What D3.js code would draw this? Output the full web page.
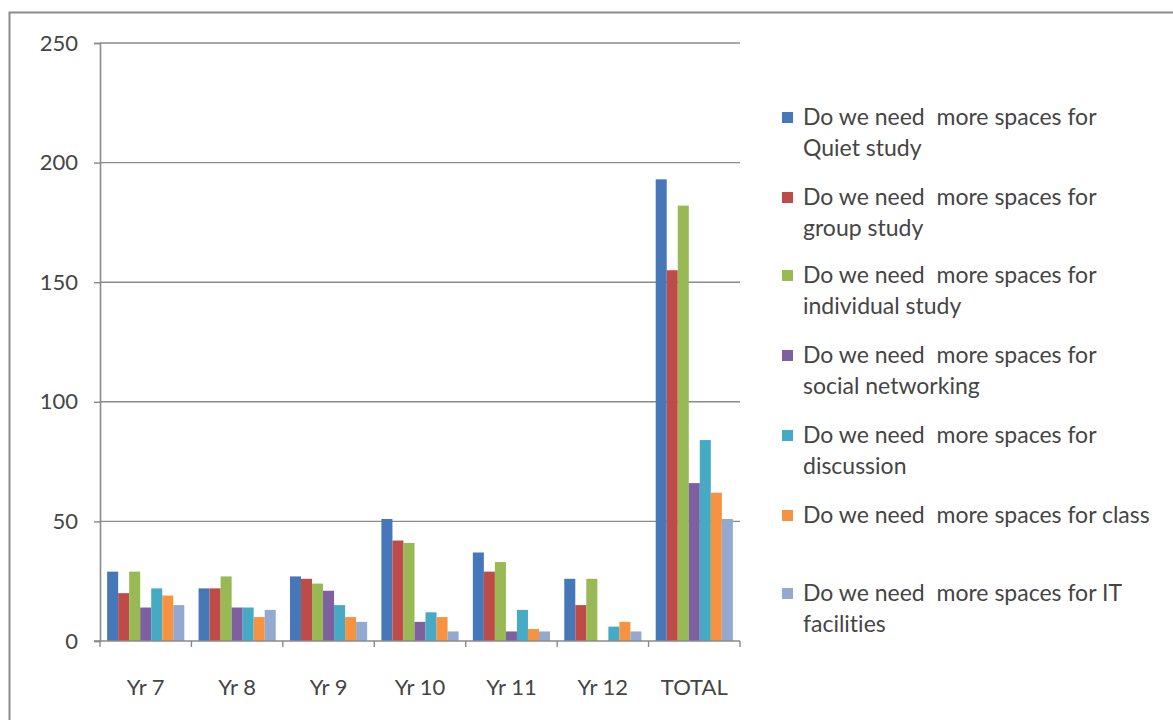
<!DOCTYPE html>
<html>
<head>
<meta charset="utf-8">
<script src="https://cdn.jsdelivr.net/npm/d3@7"></script>
<style>
  html, body { margin: 0; padding: 0; background: #fff; }
  svg { display: block; }
  text { font-family: Lato, "Open Sans", sans-serif; fill: #454545; font-variant-ligatures: none; }
</style>
</head>
<body>
<svg id="chart" width="1173" height="720"></svg>
<script>
// Survey responses by year group
const categories = ["Yr 7", "Yr 8", "Yr 9", "Yr 10", "Yr 11", "Yr 12", "TOTAL"];
const seriesNames = [
  "Do we need  more spaces for Quiet study",
  "Do we need  more spaces for group study",
  "Do we need  more spaces for individual study",
  "Do we need  more spaces for social networking",
  "Do we need  more spaces for discussion",
  "Do we need  more spaces for class",
  "Do we need  more spaces for IT facilities"
];
const quietStudy      = [29, 22, 27, 51, 37, 26, 193];
const groupStudy      = [20, 22, 26, 42, 29, 15, 155];
const individualStudy = [29, 27, 24, 41, 33, 26, 182];
const socialNetwork   = [14, 14, 21, 8, 4, 0, 66];
const discussion      = [22, 14, 15, 12, 13, 6, 84];
const classSpace      = [19, 10, 10, 10, 5, 8, 62];
const itFacilities    = [15, 13, 8, 4, 4, 4, 51];
const yTicks = [0, 50, 100, 150, 200, 250];

const seriesValues = [quietStudy, groupStudy, individualStudy, socialNetwork, discussion, classSpace, itFacilities];
const colors = ["#4677b8", "#be4b48", "#98b954", "#7d60a0", "#46aac5", "#f69240", "#93a9cf"];

const svg = d3.select("#chart");

// outer chart frame
svg.append("rect")
  .attr("x", 9.5).attr("y", 12.5)
  .attr("width", 1180).attr("height", 720)
  .attr("fill", "none").attr("stroke", "#8c8c8c").attr("stroke-width", 2);

const plot = { left: 100, right: 740, top: 43, bottom: 641 };

const x0 = d3.scaleBand().domain(categories).range([plot.left, plot.right]).padding(0);
const bw = x0.bandwidth();
const groupPad = bw * 0.078;
const x1 = d3.scaleBand().domain(d3.range(seriesNames.length)).range([groupPad, bw - groupPad]).padding(0);
const y = d3.scaleLinear().domain([0, 250]).range([plot.bottom, plot.top]);

// horizontal gridlines
svg.append("g")
  .selectAll("line")
  .data(yTicks.filter(d => d > 0))
  .join("line")
  .attr("x1", plot.left).attr("x2", plot.right)
  .attr("y1", d => y(d)).attr("y2", d => y(d))
  .attr("stroke", "#8a8a8a").attr("stroke-width", 1.4);

// bars
const rows = categories.map((c, i) => ({ cat: c, vals: seriesValues.map(s => s[i]) }));
svg.append("g")
  .selectAll("g")
  .data(rows)
  .join("g")
  .attr("transform", d => `translate(${x0(d.cat)},0)`)
  .selectAll("rect")
  .data(d => d.vals.map((v, k) => ({ v, k })))
  .join("rect")
  .attr("x", d => x1(d.k))
  .attr("width", x1.bandwidth())
  .attr("y", d => y(d.v))
  .attr("height", d => plot.bottom - y(d.v))
  .attr("fill", d => colors[d.k]);

// y axis
const yAxis = svg.append("g")
  .attr("transform", `translate(${plot.left},0)`)
  .call(d3.axisLeft(y).tickValues(yTicks).tickSize(6).tickPadding(16));
yAxis.select(".domain").attr("stroke", "#8a8a8a").attr("stroke-width", 1.6);
yAxis.selectAll(".tick line").attr("stroke", "#8a8a8a").attr("stroke-width", 1.4);
yAxis.selectAll(".tick text").style("font-size", "22px").attr("fill", "#454545");

// x axis: ticks sit on category boundaries
const xAxisG = svg.append("g").attr("transform", `translate(0,${plot.bottom})`);
xAxisG.append("line")
  .attr("x1", plot.left - 6).attr("x2", plot.right)
  .attr("stroke", "#8a8a8a").attr("stroke-width", 1.6);
xAxisG.selectAll("line.tk")
  .data(categories.concat(["end"]))
  .join("line")
  .attr("class", "tk")
  .attr("x1", (d, i) => plot.left + i * bw).attr("x2", (d, i) => plot.left + i * bw)
  .attr("y1", 0).attr("y2", 6)
  .attr("stroke", "#8a8a8a").attr("stroke-width", 1.4);
xAxisG.selectAll("text")
  .data(categories)
  .join("text")
  .attr("x", d => x0(d) + bw / 2)
  .attr("y", 54)
  .attr("text-anchor", "middle")
  .style("font-size", "22px")
  .text(d => d);

// legend: wrapped two-line entries
const legendLines = [
  ["Do we need  more spaces for", "Quiet study"],
  ["Do we need  more spaces for", "group study"],
  ["Do we need  more spaces for", "individual study"],
  ["Do we need  more spaces for", "social networking"],
  ["Do we need  more spaces for", "discussion"],
  ["Do we need  more spaces for class"],
  ["Do we need  more spaces for IT", "facilities"]
];
const legendY = [117, 197, 275, 355, 435, 515, 593];
const legend = svg.append("g");
legendLines.forEach((lines, i) => {
  const g = legend.append("g").attr("transform", `translate(782,${legendY[i]})`);
  g.append("rect").attr("x", 0).attr("y", -5).attr("width", 11).attr("height", 11).attr("fill", colors[i]);
  lines.forEach((t, j) => {
    g.append("text")
      .attr("x", 21).attr("y", j * 31)
      .attr("dy", "0.35em")
      .style("font-size", "23px")
      .style("white-space", "pre")
      .text(t);
  });
});
</script>
</body>
</html>
